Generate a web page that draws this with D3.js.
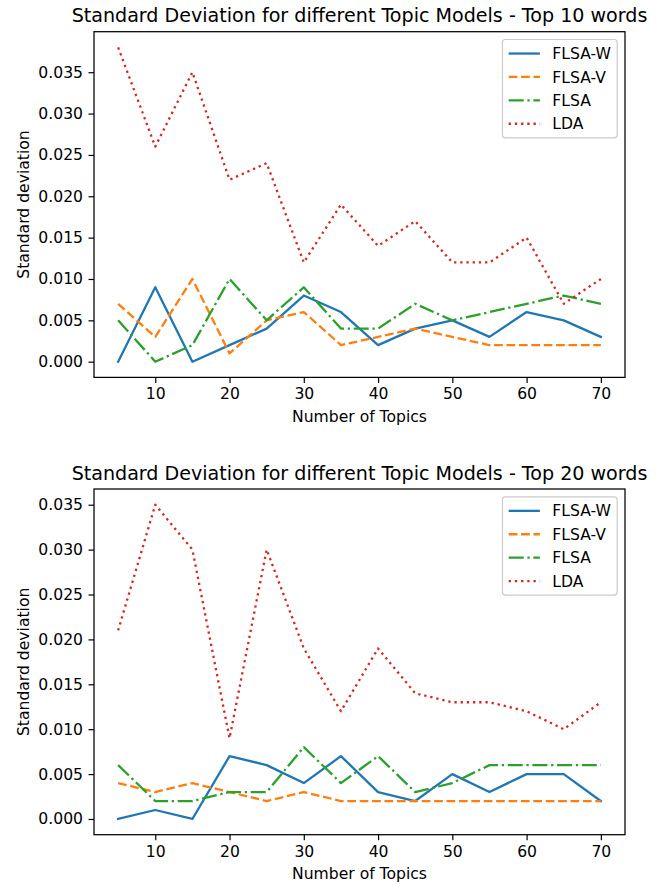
<!DOCTYPE html>
<html>
<head>
<meta charset="utf-8">
<script src="https://cdn.jsdelivr.net/npm/d3@7"></script>
<style>
  body { margin: 0; background: #fff; }
  svg { display: block; font-family: "DejaVu Sans", sans-serif; }
</style>
</head>
<body>
<div id="chart"></div>
<script>
// Number of topics on the x axis
var topics = [5, 10, 15, 20, 25, 30, 35, 40, 45, 50, 55, 60, 65, 70];

// Top 10 words
var flsaW10 = [0.000, 0.009, 0.000, 0.002, 0.004, 0.008, 0.006, 0.002, 0.004, 0.005, 0.003, 0.006, 0.005, 0.003];
var flsaV10 = [0.007, 0.003, 0.010, 0.001, 0.005, 0.006, 0.002, 0.003, 0.004, 0.003, 0.002, 0.002, 0.002, 0.002];
var flsa10  = [0.005, 0.000, 0.002, 0.010, 0.005, 0.009, 0.004, 0.004, 0.007, 0.005, 0.006, 0.007, 0.008, 0.007];
var lda10   = [0.038, 0.026, 0.035, 0.022, 0.024, 0.012, 0.019, 0.014, 0.017, 0.012, 0.012, 0.015, 0.007, 0.010];

// Top 20 words
var flsaW20 = [0.000, 0.001, 0.000, 0.007, 0.006, 0.004, 0.007, 0.003, 0.002, 0.005, 0.003, 0.005, 0.005, 0.002];
var flsaV20 = [0.004, 0.003, 0.004, 0.003, 0.002, 0.003, 0.002, 0.002, 0.002, 0.002, 0.002, 0.002, 0.002, 0.002];
var flsa20  = [0.006, 0.002, 0.002, 0.003, 0.003, 0.008, 0.004, 0.007, 0.003, 0.004, 0.006, 0.006, 0.006, 0.006];
var lda20   = [0.021, 0.035, 0.030, 0.009, 0.030, 0.019, 0.012, 0.019, 0.014, 0.013, 0.013, 0.012, 0.010, 0.013];

var seriesNames = ["FLSA-W", "FLSA-V", "FLSA", "LDA"];
var xTicks = [10, 20, 30, 40, 50, 60, 70];
var yTicks = [0, 0.005, 0.010, 0.015, 0.020, 0.025, 0.030, 0.035];
var titles = ["Standard Deviation for different Topic Models - Top 10 words",
              "Standard Deviation for different Topic Models - Top 20 words"];

// line styles (matplotlib defaults, scaled)
var colors = ["#1f77b4", "#ff7f0e", "#2ca02c", "#d62728"];
var dashes = [null, "8.7,3.7", "15,3.7,2.3,3.7", "2.3,3.9"];

var W = 666, H = 884;
var left = 94, right = 625;
var panels = [
  { top: 31.7, bottom: 377.4, title: titles[0], data: [flsaW10, flsaV10, flsa10, lda10] },
  { top: 489, bottom: 834.7, title: titles[1], data: [flsaW20, flsaV20, flsa20, lda20] }
];

var svg = d3.select("#chart").append("svg")
  .attr("width", W)
  .attr("height", H);

// matplotlib style auto margins (5%)
function padded(lo, hi) {
  var m = (hi - lo) * 0.05;
  return [lo - m, hi + m];
}

panels.forEach(function (p) {
  var g = svg.append("g");

  var x = d3.scaleLinear()
    .domain(padded(d3.min(topics), d3.max(topics)))
    .range([left, right]);

  var all = d3.merge(p.data);
  var y = d3.scaleLinear()
    .domain(padded(d3.min(all), d3.max(all)))
    .range([p.bottom, p.top]);

  // axes
  var xa = g.append("g")
    .attr("transform", "translate(0," + p.bottom + ")")
    .call(d3.axisBottom(x).tickValues(xTicks).tickSize(5.5).tickPadding(5.5)
      .tickFormat(d3.format("d")));
  var ya = g.append("g")
    .attr("transform", "translate(" + left + ",0)")
    .call(d3.axisLeft(y).tickValues(yTicks).tickSize(5.5).tickPadding(5.5)
      .tickFormat(d3.format(".3f")));

  [xa, ya].forEach(function (a) {
    a.select(".domain").remove();
    a.selectAll("line").attr("stroke", "#000").attr("stroke-width", 1.2);
    a.selectAll("text")
      .attr("fill", "#000")
      .style("font-size", "15.6px")
      .style("font-family", "'DejaVu Sans', sans-serif");
  });

  // lines
  var line = d3.line()
    .x(function (d, i) { return x(topics[i]); })
    .y(function (d) { return y(d); });

  p.data.forEach(function (vals, k) {
    g.append("path")
      .datum(vals)
      .attr("d", line)
      .attr("fill", "none")
      .attr("stroke", colors[k])
      .attr("stroke-width", 2.3)
      .attr("stroke-linejoin", "round")
      .attr("stroke-linecap", k === 0 ? "square" : "butt")
      .attr("stroke-dasharray", dashes[k]);
  });

  // frame
  g.append("rect")
    .attr("x", left)
    .attr("y", p.top)
    .attr("width", right - left)
    .attr("height", p.bottom - p.top)
    .attr("fill", "none")
    .attr("stroke", "#000")
    .attr("stroke-width", 1.25);

  // title
  g.append("text")
    .attr("x", (left + right) / 2)
    .attr("y", p.top - 9.4)
    .attr("text-anchor", "middle")
    .style("font-size", "19.1px")
    .text(p.title);

  // axis labels
  g.append("text")
    .attr("x", (left + right) / 2)
    .attr("y", p.bottom + 44.7)
    .attr("text-anchor", "middle")
    .style("font-size", "15.6px")
    .text("Number of Topics");

  g.append("text")
    .attr("transform", "translate(28.5," + ((p.top + p.bottom) / 2) + ") rotate(-90)")
    .attr("text-anchor", "middle")
    .style("font-size", "15.6px")
    .text("Standard deviation");

  // legend
  var fs = 15.6;
  var leg = g.append("g");
  var box = leg.append("rect");
  var texts = [];
  seriesNames.forEach(function (name, k) {
    texts.push(leg.append("text")
      .attr("dy", "0.36em")
      .style("font-size", fs + "px")
      .text(name));
  });
  var tw = d3.max(texts, function (t) { return t.node().getComputedTextLength(); });
  var bw = 0.4 * fs + 2 * fs + 0.8 * fs + tw + 0.4 * fs;
  var bh = 0.8 * fs + 4 * fs + 3 * 0.5 * fs;
  var bx = right - 0.5 * fs - bw;
  var by = p.top + 0.5 * fs;
  box.attr("x", bx).attr("y", by)
    .attr("width", bw).attr("height", bh)
    .attr("rx", 3).attr("ry", 3)
    .attr("fill", "#fff").attr("fill-opacity", 0.8)
    .attr("stroke", "#cccccc").attr("stroke-width", 1.2);

  seriesNames.forEach(function (name, k) {
    var cy = by + 0.4 * fs + fs / 2 + k * 1.5 * fs;
    var hx = bx + 0.4 * fs;
    leg.append("line")
      .attr("x1", hx).attr("x2", hx + 2 * fs)
      .attr("y1", cy).attr("y2", cy)
      .attr("stroke", colors[k])
      .attr("stroke-width", 2.3)
      .attr("stroke-dasharray", dashes[k]);
    texts[k].attr("x", hx + 2.8 * fs).attr("y", cy);
  });
});
</script>
</body>
</html>
